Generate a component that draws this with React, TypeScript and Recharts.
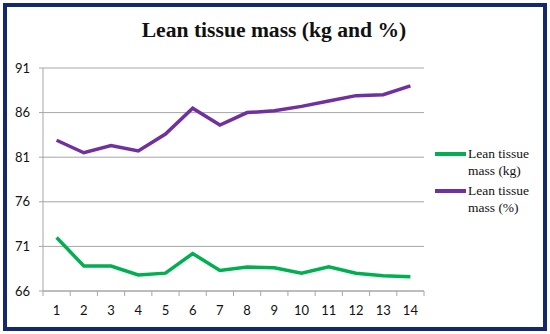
import { CartesianGrid, Legend, Line, LineChart, XAxis, YAxis } from "recharts"

const sessions = ["1", "2", "3", "4", "5", "6", "7", "8", "9", "10", "11", "12", "13", "14"]
const leanKg = [72.0, 68.8, 68.8, 67.8, 68.0, 70.2, 68.3, 68.7, 68.6, 68.0, 68.7, 68.0, 67.7, 67.6]
const leanPct = [82.9, 81.5, 82.3, 81.7, 83.6, 86.5, 84.6, 86.0, 86.2, 86.7, 87.3, 87.9, 88.0, 89.0]
const yTicks = [66, 71, 76, 81, 86, 91]
const seriesOrder = ["kg", "pct"]

const data = sessions.map((label, i) => ({ label, kg: leanKg[i], pct: leanPct[i] }))

const axisGray = "#a6a6a6"
const labelFont = "Lato, 'Liberation Sans', sans-serif"

function XTick(props: any) {
  const { x, y, payload, index, visibleTicksCount } = props
  const half = payload?.offset || 13.6
  const axisY = y - 15
  return (
    <g>
      <line x1={x - half} x2={x - half} y1={axisY} y2={axisY + 5} stroke={axisGray} />
      {index === visibleTicksCount - 1 && (
        <line x1={x + half} x2={x + half} y1={axisY} y2={axisY + 5} stroke={axisGray} />
      )}
      <text x={x} y={y} dy="0.71em" textAnchor="middle" fontSize={13} fontFamily={labelFont} fill="#111">
        {payload.value}
      </text>
    </g>
  )
}

function LegendBox({ payload }: any) {
  // legend lists kg first, like the original
  const items = [...(payload || [])].sort(
    (a: any, b: any) => seriesOrder.indexOf(a.dataKey) - seriesOrder.indexOf(b.dataKey)
  )
  return (
    <div style={{ width: 110, paddingLeft: 11, boxSizing: "border-box" }}>
      {items.map((item: any) => {
        const words = String(item.value).split(" ")
        return (
          <div key={item.value} style={{ display: "flex", alignItems: "flex-start", marginBottom: 3 }}>
            <div style={{ width: 33, height: 17, display: "flex", alignItems: "center", flexShrink: 0 }}>
              <div style={{ width: 31, height: 4, background: item.color }} />
            </div>
            <div
              style={{
                fontFamily: "'Liberation Serif', serif",
                fontSize: 13.5,
                lineHeight: "17px",
                color: "#111",
              }}
            >
              <div>{words.slice(0, 2).join(" ")}</div>
              <div>{words.slice(2).join(" ")}</div>
            </div>
          </div>
        )
      })}
    </div>
  )
}

export default function App() {
  return (
    <div style={{ position: "absolute", left: 0, top: 0, width: 550, height: 334, background: "#fff" }}>
      <div
        style={{
          position: "absolute",
          left: 3,
          top: 3,
          width: 544,
          height: 328,
          border: "4px solid #14286c",
          boxSizing: "border-box",
        }}
      />
      <div
        style={{
          position: "absolute",
          left: 0,
          top: 20,
          width: 548,
          textAlign: "center",
          fontFamily: "'Liberation Serif', serif",
          fontWeight: "bold",
          fontSize: 21.6,
          lineHeight: "21px",
          color: "#111",
        }}
      >
        Lean tissue mass (kg and %)
      </div>
      <LineChart
        width={550}
        height={334}
        data={data}
        margin={{ top: 68, right: 16, bottom: 13, left: 0 }}
        style={{ position: "absolute", left: 0, top: 0 }}
      >
        <CartesianGrid vertical={false} stroke={axisGray} />
        <XAxis
          dataKey="label"
          scale="band"
          height={30}
          stroke={axisGray}
          tickLine={false}
          tickSize={5}
          tickMargin={10}
          tick={<XTick />}
          interval={0}
        />
        <YAxis
          domain={[66, 91]}
          ticks={yTicks}
          width={43}
          stroke={axisGray}
          tickSize={4}
          tickMargin={9}
          tick={{ fontSize: 13, fontFamily: labelFont, fill: "#111" }}
        />
        <Legend
          layout="vertical"
          align="right"
          verticalAlign="top"
          width={110}
          wrapperStyle={{ top: 145 }}
          content={<LegendBox />}
        />
        <Line
          dataKey="kg"
          name="Lean tissue mass (kg)"
          stroke="#00b050"
          strokeWidth={3.5}
          dot={false}
          isAnimationActive={false}
        />
        <Line
          dataKey="pct"
          name="Lean tissue mass (%)"
          stroke="#7030a0"
          strokeWidth={3.5}
          dot={false}
          isAnimationActive={false}
        />
      </LineChart>
    </div>
  )
}
